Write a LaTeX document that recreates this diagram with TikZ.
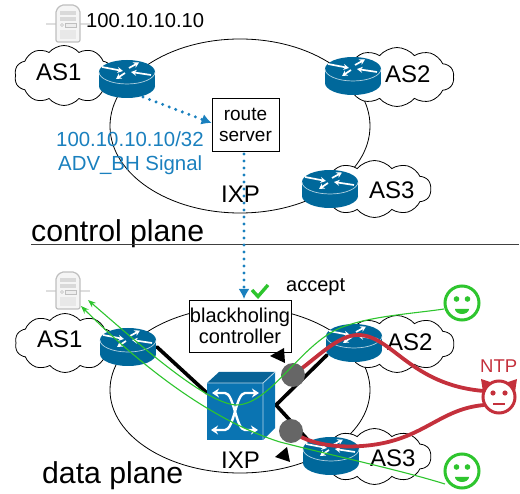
\documentclass[tikz,border=0pt]{standalone}
\usepackage{fontspec}
\setmainfont{Liberation Sans}
\usetikzlibrary{arrows.meta,shapes.symbols,calc}
\definecolor{routerblue}{HTML}{00689B}
\definecolor{switchblue}{HTML}{0A74B2}
\definecolor{sigblue}{HTML}{1A80BE}
\definecolor{okgreen}{HTML}{2EC52E}
\definecolor{badred}{HTML}{C4303C}
\newcommand{\fs}[1]{\fontsize{#1}{#1}\selectfont}
\tikzset{
  lbl/.style={inner sep=0pt,anchor=base west,text=black},
  big/.style={lbl,font=\fs{24}},
  huge30/.style={lbl,font=\fs{30.2}},
  mid/.style={lbl,font=\fs{20}},
  bluelbl/.style={lbl,font=\fs{20.4},text=sigblue},
  ring/.style={draw=black,line width=0.8pt},
  cloudy/.style={cloud,cloud puffs=10,cloud puff arc=100,cloud ignores aspect,draw=black,fill=white,line width=0.8pt,inner sep=0pt,minimum width=#1},
  boxed/.style={draw=black,fill=white,line width=0.8pt,inner sep=0pt,align=center},
  sig/.style={draw=sigblue,line width=3.3pt,line cap=round,dash pattern=on 0pt off 7pt,-{Latex[length=10pt,width=11pt]}},
  thick3/.style={draw=black,line width=3.6pt,line cap=round},
  redflow/.style={draw=badred,line width=3.8pt,line cap=round},
  greenflow/.style={draw=okgreen,line width=1.1pt,-{Stealth[length=8pt,width=6pt]}},
  joint/.style={circle,fill=black!60,inner sep=0pt,minimum size=24pt},
  router/.pic={
    \coordinate (-c) at (0,0);
    \fill[routerblue] (-28,-7) rectangle (28,7);
    \fill[routerblue] (0,7) ellipse[x radius=28,y radius=12];
    \fill[routerblue] (0,-7) ellipse[x radius=28,y radius=12];
    \draw[white!70!routerblue,line width=0.7pt] (-28,-7) arc[start angle=180,end angle=0,x radius=28,y radius=12];
    \begin{scope}[white,line width=1.7pt,-{Stealth[length=5.5pt,width=6pt]}]
      \draw (-25,-12) -- (-4,-8);
      \draw (2,-11) -- (12,-16.5);
      \draw (-2,-6) -- (-11,0);
      \draw (24,-4) -- (4,-7);
    \end{scope}
  },
  serverpic/.pic={
    \coordinate (-c) at (0,0);
    \draw[black!13,line width=2.5pt] (-22,0) -- (22,0);
    \draw[black!25,fill=black!4,line width=1.2pt,rounded corners=2pt] (-12,18) -- (-12,-14) -- (-7,-19) -- (7,-19) -- (12,-14) -- (12,18) -- cycle;
    \fill[black!15] (-8,-13) rectangle (8,-9);
    \fill[black!15] (-8,-7) rectangle (8,-3);
    \draw[black!25,fill=black!7,line width=0.5pt] (-3,-1) rectangle (8,3);
    \draw[black!25,line width=0.5pt] (-6,1) circle[radius=1.5];
    \fill[black!9] (-8,6) rectangle (8,15);
  },
  smiley/.pic={
    \coordinate (-c) at (0,0);
    \draw[okgreen,fill=white,line width=3pt] (0,0) circle[radius=17];
    \fill[okgreen] (-5.5,-4) circle[radius=2.8] (5.5,-4) circle[radius=2.8];
    \fill[okgreen] (-7,6) -- (7,6) arc[start angle=0,end angle=180,x radius=7,y radius=5] -- cycle;
  },
  devil/.pic={
    \coordinate (-c) at (0,0);
    \fill[badred] (-16,-5) -- (-18,-18) -- (-6,-14) -- cycle;
    \fill[badred] (16,-5) -- (18,-18) -- (6,-14) -- cycle;
    \draw[badred,fill=white,line width=3pt] (0,0) circle[radius=16];
    \fill[badred] (-6,-4) circle[radius=2.6] (6,-4) circle[radius=2.6];
    \draw[badred,line width=2pt] (-6,7) -- (6,7);
  },
  switchpic/.pic={
    \coordinate (-c) at (0,0);
    \fill[switchblue] (0,0) rectangle (56,57);
    \fill[switchblue!85!black] (0,0) -- (12,-11) -- (68,-11) -- (56,0) -- cycle;
    \fill[switchblue] (56,0) -- (68,-11) -- (68,45) -- (56,57) -- cycle;
    \draw[white!70!switchblue,line width=0.8pt] (0,0) -- (56,0) -- (56,57) (56,0) -- (68,-11);
    \begin{scope}[white,line width=2.4pt,{Stealth[length=7pt,width=9pt]}-{Stealth[length=7pt,width=9pt]}]
      \draw (5,10) -- (18,10) .. controls (27,10) and (29,47) .. (38,47) -- (51,47);
      \draw (4,47) -- (18,47) .. controls (27,47) and (29,10) .. (38,10) -- (52,10);
    \end{scope}
  }
}
\begin{document}
\begin{tikzpicture}[x=1pt,y=-1pt]
\useasboundingbox (0,0) rectangle (520,494);
% ---- control plane
\draw[ring] (240,126) ellipse[x radius=130,y radius=87];
\node[cloudy=99pt,minimum height=60pt] (c1t) at (64,75.5) {};
\node[cloudy=114pt,minimum height=59pt] (c2t) at (397,77) {};
\node[cloudy=113pt,minimum height=57pt] (c3t) at (374.5,189) {};
\pic (srvt) at (68,24) {serverpic};
\pic (r1t) at (127,79) {router};
\pic (r2t) at (353,76) {router};
\pic (r3t) at (330,189) {router};
\node[boxed,minimum width=67pt,minimum height=53pt,font=\fs{19}] (rs) at (245.5,124.5) {route\\[2pt]server};
\node[mid,font=\fs{20.2}] (iptxt) at (86,28) {100.10.10.10};
\node[big] (as1t) at (36,81) {AS1};
\node[big] (as2t) at (385,83) {AS2};
\node[big] (as3t) at (369,199) {AS3};
\node[big] (ixpt) at (221,203) {IXP};
\node[bluelbl] (advip) at (56,147) {100.10.10.10/32};
\node[bluelbl] (advbh) at (58,171) {ADV\_BH Signal};
\node[huge30] (cp) at (31,242) {control plane};
\coordinate (sepl) at (31,244.5);
\coordinate (sepr) at (519,244.5);
\draw[black!75,line width=0.8pt] (sepl) -- (sepr);
% ---- data plane
\draw[ring] (240,390) ellipse[x radius=130,y radius=83];
\node[cloudy=100pt,minimum height=59pt] (c1b) at (65,343) {};
\node[cloudy=114pt,minimum height=57pt] (c2b) at (397,344) {};
\node[cloudy=113pt,minimum height=56pt] (c3b) at (374.5,456.5) {};
\pic (srvb) at (68,291) {serverpic};
\node[boxed,minimum width=102pt,minimum height=52pt,font=\fs{20}] (bh) at (240,326) {blackholing\\[1pt]controller};
% thick links
\coordinate (jl) at (207,393);
\coordinate (bend) at (276,405);
\coordinate (j2) at (327,355);
\coordinate (j3) at (308,440);
\coordinate (j1) at (157,347);
\draw[thick3] (j1) -- (jl);
\draw[thick3,line join=miter] (j2) -- (bend) -- (j3);
\pic (r1b) at (128,347) {router};
\pic (r2b) at (354,343) {router};
\pic (r3b) at (331,456) {router};
\pic (sw) at (207,383) {switchpic};
% texts
\node[big] (as1b) at (37,348) {AS1};
\node[big] (as2b) at (387,351) {AS2};
\node[big] (as3b) at (370,467) {AS3};
\node[big] (ixpb) at (221,469) {IXP};
\node[huge30] (dp) at (42,484) {data plane};
\node[mid] (acc) at (286,292) {accept};
\node[lbl,font=\fs{18.5},text=badred] (ntp) at (480,373) {NTP};
% faces
\pic (s1) at (462,303) {smiley};
\pic (s2) at (462,471) {smiley};
\pic (dv) at (499,397) {devil};
% red flows
\coordinate (g1) at (293,375);
\coordinate (g2) at (291,431);
\draw[redflow] (g1) .. controls (318,357) and (338,335) .. (358,335) .. controls (392,335) and (410,385) .. (484,391);
\draw[redflow] (g2) .. controls (310,445) and (340,449) .. (372,445) .. controls (425,438) and (440,409) .. (484,405);
\node[joint] (gc1) at (g1) {};
\node[joint] (gc2) at (g2) {};
% black triangles
\fill[black] (270,356) -- (284,348) -- (285,363) -- cycle;
\fill[black] (275,457) -- (287,447) -- (290,462) -- cycle;
% green flows
\coordinate (gs1) at (444,309);
\coordinate (gs2) at (445,484);
\coordinate (srv1) at (88,300);
\coordinate (srv2) at (81,306);
\draw[greenflow] (gs1) .. controls (410,314) and (370,316) .. (340,328) .. controls (300,345) and (270,405) .. (236,405) .. controls (205,403) and (140,345) .. (srv1);
\draw[greenflow] (gs2) .. controls (400,470) and (330,455) .. (280,442) .. controls (210,420) and (140,365) .. (srv2);
% signal
\draw[sig] (143,97) -- (rs.west |- 0,123);
\draw[sig] (244,154) -- (244,299);
% check mark
\draw[okgreen,line width=3.4pt] (252,290) -- (258,296.5) -- (268,285);
\end{tikzpicture}
\end{document}
